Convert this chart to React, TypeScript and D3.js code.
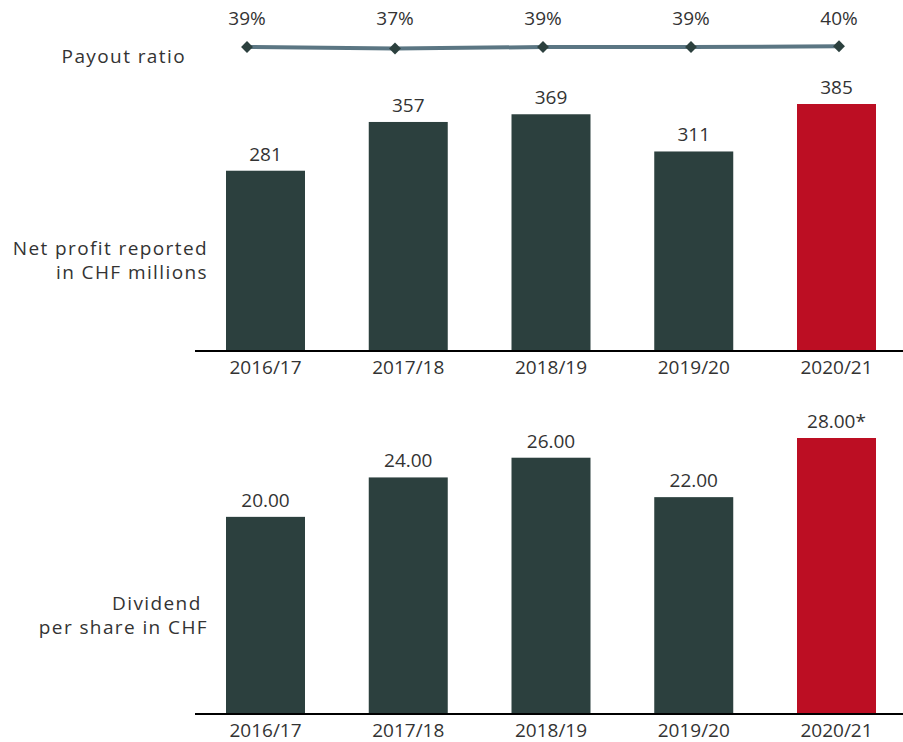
import React, { useRef, useEffect } from 'react';
import * as d3 from 'd3';

const years = ['2016/17', '2017/18', '2018/19', '2019/20', '2020/21'];
const payoutRatio = [39, 37, 39, 39, 40];
const netProfit = [281, 357, 369, 311, 385];
const dividend = [20.0, 24.0, 26.0, 22.0, 28.0];
const dividendLabels = ['20.00', '24.00', '26.00', '22.00', '28.00*'];

const width = 903;
const height = 742;
const dark = '#2c403e';
const red = '#bc0e23';
const textColor = '#333';
const font = '"Open Sans", sans-serif';

const App = () => {
  const svgRef = useRef<SVGSVGElement>(null);

  useEffect(() => {
    const svg = d3.select(svgRef.current);
    svg.selectAll('*').remove();

    const x = d3.scalePoint<string>().domain(years).range([265.5, 836.5]);
    const xPay = d3.scalePoint<string>().domain(years).range([247, 839]);
    const barW = 79;

    // payout ratio line
    const yPay = d3.scaleLinear().domain([37, 40]).range([48.5, 46.3]);
    const payLine = d3.line<number>()
      .x((d, i) => xPay(years[i]) as number)
      .y(d => yPay(d));

    svg.append('path')
      .datum(payoutRatio)
      .attr('d', payLine)
      .attr('fill', 'none')
      .attr('stroke', '#5b7683')
      .attr('stroke-width', 4);

    svg.append('g')
      .selectAll('path')
      .data(payoutRatio)
      .join('path')
      .attr('d', d3.symbol(d3.symbolDiamond2, 90))
      .attr('transform', (d, i) => `translate(${xPay(years[i])},${yPay(d)})`)
      .attr('fill', dark);

    svg.append('g')
      .selectAll('text')
      .data(payoutRatio)
      .join('text')
      .attr('x', (d, i) => xPay(years[i]) as number)
      .attr('y', 25)
      .attr('text-anchor', 'middle')
      .text(d => `${d}%`);

    // the two bar panels
    const panels = [
      { values: netProfit, labels: netProfit.map(String), y: d3.scaleLinear().domain([0, 385]).range([351, 104]) },
      { values: dividend, labels: dividendLabels, y: d3.scaleLinear().domain([0, 28]).range([714, 438]) },
    ];

    panels.forEach(p => {
      const base = p.y(0);
      const g = svg.append('g');
      g.selectAll('rect')
        .data(p.values)
        .join('rect')
        .attr('x', (d, i) => (x(years[i]) as number) - barW / 2)
        .attr('y', d => p.y(d))
        .attr('width', barW)
        .attr('height', d => base - p.y(d))
        .attr('fill', (d, i) => (i === years.length - 1 ? red : dark));

      g.selectAll('text.val')
        .data(p.values)
        .join('text')
        .attr('class', 'val')
        .attr('x', (d, i) => x(years[i]) as number)
        .attr('y', d => p.y(d) - 10)
        .attr('text-anchor', 'middle')
        .text((d, i) => p.labels[i]);

      g.append('line')
        .attr('x1', 195)
        .attr('x2', width)
        .attr('y1', base)
        .attr('y2', base)
        .attr('stroke', '#000')
        .attr('stroke-width', 2);

      g.selectAll('text.year')
        .data(years)
        .join('text')
        .attr('class', 'year')
        .attr('x', d => x(d) as number)
        .attr('y', base + 23)
        .attr('text-anchor', 'middle')
        .text(d => d);
    });

    // row titles
    const titles = [
      { lines: ['Payout ratio'], x: 186, y: 63 },
      { lines: ['Net profit reported'], x: 208, y: 255 },
      { lines: ['in CHF millions'], x: 208, y: 279 },
      { lines: ['Dividend '], x: 208, y: 610 },
      { lines: ['per share in CHF'], x: 208, y: 634 },
    ];
    svg.append('g')
      .selectAll('text')
      .data(titles)
      .join('text')
      .attr('class', 'title')
      .attr('x', d => d.x)
      .attr('y', d => d.y)
      .attr('text-anchor', 'end')
      .attr('xml:space', 'preserve')
      .text(d => d.lines[0]);

    svg.selectAll('text')
      .attr('font-family', font)
      .attr('font-size', 19)
      .attr('fill', textColor);
    svg.selectAll('text.title')
      .attr('letter-spacing', 1.4);
  }, []);

  return (
    <svg
      ref={svgRef}
      width={width}
      height={height}
      style={{ position: 'absolute', left: 0, top: 0, background: '#fff' }}
    />
  );
};

export default App;
